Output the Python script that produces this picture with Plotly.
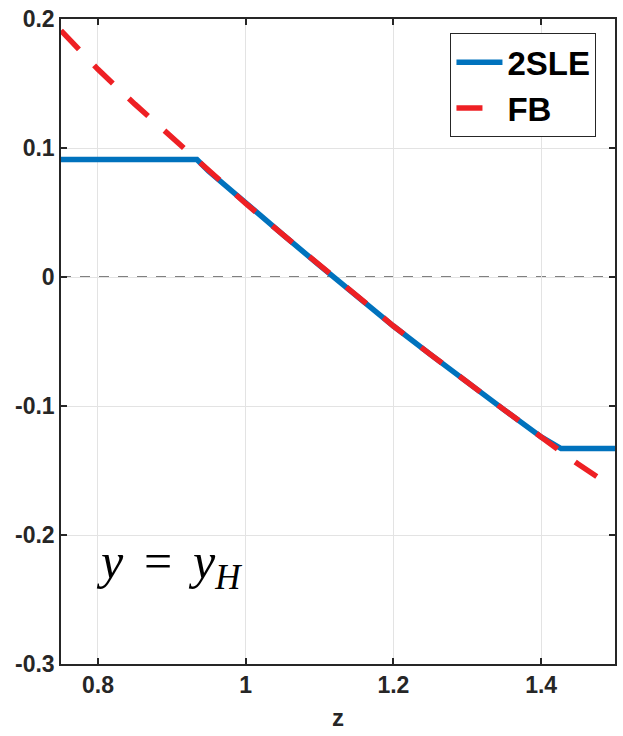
import plotly.graph_objects as go

# FB curve
z_fb = [0.75, 0.80, 0.85, 0.90, 0.95, 1.00, 1.05, 1.10, 1.15, 1.20,
        1.25, 1.30, 1.35, 1.40, 1.45, 1.50]
fb = [0.191, 0.161, 0.134, 0.108, 0.082, 0.057, 0.033, 0.009, -0.015, -0.038,
      -0.060, -0.082, -0.103, -0.124, -0.145, -0.164]

# 2SLE curve (saturates at both ends)
z_sle = [0.75, 0.934, 0.95, 1.00, 1.05, 1.10, 1.15, 1.20, 1.25, 1.30,
         1.35, 1.40, 1.427, 1.50]
sle = [0.091, 0.091, 0.082, 0.057, 0.033, 0.009, -0.015, -0.038, -0.060, -0.082,
       -0.103, -0.124, -0.133, -0.133]

x_ticks = [0.8, 1.0, 1.2, 1.4]
x_tick_text = ["0.8", "1", "1.2", "1.4"]
y_ticks = [-0.3, -0.2, -0.1, 0.0, 0.1, 0.2]
y_tick_text = ["-0.3", "-0.2", "-0.1", "0", "0.1", "0.2"]

BLUE = "#0072BD"
RED = "#EE2024"
AX = "#262626"

fig = go.Figure()
fig.add_trace(go.Scatter(x=z_sle, y=sle, mode="lines", name="2SLE",
                         line=dict(color=BLUE, width=5.5)))
fig.add_trace(go.Scatter(x=z_fb, y=fb, mode="lines", name="FB",
                         line=dict(color=RED, width=5.5, dash="26px,22px")))

fig.add_hline(y=0, line=dict(color="#808080", width=2, dash="10px,9px"),
              layer="below")

fig.add_annotation(x=0.794, y=-0.223, xref="x", yref="y",
                   text="<i>y</i>&nbsp;&#8198;=&#8198;&nbsp;<i>y<sub>H</sub></i>",
                   showarrow=False, xanchor="left", yanchor="middle",
                   font=dict(family="Liberation Serif", size=50, color="#000000"))

axis_common = dict(
    showgrid=True, gridcolor="#e3e3e3", gridwidth=1,
    showline=True, linecolor=AX, linewidth=1.5, mirror="ticks",
    ticks="inside", ticklen=6, tickcolor=AX, tickwidth=1.5,
    zeroline=False,
    tickfont=dict(family="Liberation Sans", size=23, color=AX, weight="bold"),
)

fig.update_xaxes(range=[0.75, 1.5], tickvals=x_ticks, ticktext=x_tick_text,
                 title=dict(text="z", standoff=12,
                            font=dict(family="Liberation Sans", size=24,
                                      color=AX, weight="bold")),
                 **axis_common)
fig.update_yaxes(range=[-0.3, 0.2], tickvals=y_ticks, ticktext=y_tick_text,
                 **axis_common)

fig.update_layout(
    width=623, height=736,
    margin=dict(l=61, r=6, t=19, b=72),
    plot_bgcolor="white", paper_bgcolor="white",
    showlegend=True,
    legend=dict(x=0.703, y=0.978, xanchor="left", yanchor="top",
                bgcolor="white", bordercolor=AX, borderwidth=1,
                itemwidth=46, tracegroupgap=0,
                font=dict(family="Liberation Sans", size=33, color="#000000",
                          weight="bold")),
)

fig.write_html("out.html")
